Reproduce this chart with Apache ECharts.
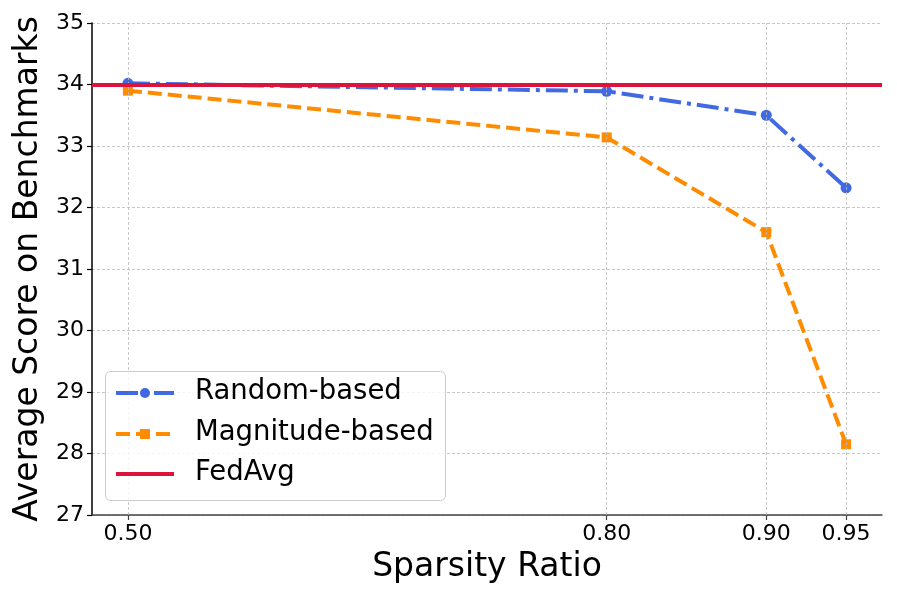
<!DOCTYPE html>
<html><head><meta charset="utf-8">
<script src="https://cdn.jsdelivr.net/npm/echarts@6/dist/echarts.min.js"></script>
<style>html,body{margin:0;padding:0;background:#fff;overflow:hidden}#c{width:897px;height:598px}</style>
</head><body><div id="c"></div>
<script>
const sparsity = [0.50, 0.80, 0.90, 0.95];
const xTickLabels = ['0.50', '0.80', '0.90', '0.95'];
const randomBased = [34.02, 33.89, 33.50, 32.32];
const magnitudeBased = [33.90, 33.14, 31.60, 28.15];
const fedAvg = 34.0;
const seriesNames = ['Random-based', 'Magnitude-based', 'FedAvg'];

const F = 'DejaVu Sans';
const BLUE = '#4169E1', ORANGE = '#FF8C00', RED = '#DC143C';
const DASHDOT = [22, 6, 4, 6], DASH = [14, 6];
const chart = echarts.init(document.getElementById('c'), null, {renderer: 'canvas'});
const pair = (xs, ys) => xs.map((x, i) => [x, ys[i]]);

// legend drawn as graphic (box + sample lines + text)
const LX = 105, LY = 371, LW = 340, LH = 129, rowY = [393, 434, 474];
const styles = [
  {color: BLUE, dash: DASHDOT, sym: 'circle'},
  {color: ORANGE, dash: DASH, sym: 'rect'},
  {color: RED, dash: null, sym: null}
];
const legendEls = [{
  type: 'rect', left: LX, top: LY, z: 100,
  shape: {width: LW, height: LH, r: 5},
  style: {fill: 'rgba(255,255,255,0.8)', stroke: '#cccccc', lineWidth: 1}
}];
seriesNames.forEach((n, i) => {
  const s = styles[i], y = rowY[i];
  legendEls.push({type: 'line', z: 101, shape: {x1: 116, y1: y, x2: 174, y2: y},
    style: {stroke: s.color, lineWidth: 4, lineDash: s.dash || null}});
  if (s.sym === 'circle') legendEls.push({type: 'circle', z: 102, shape: {cx: 145, cy: y, r: 5}, style: {fill: s.color}});
  if (s.sym === 'rect') legendEls.push({type: 'rect', z: 102, shape: {x: 140, y: y - 5, width: 10, height: 10}, style: {fill: s.color}});
  legendEls.push({type: 'text', z: 102, left: 195, top: y - 15,
    style: {text: n, fontFamily: F, fontSize: 27.5, fill: '#000', textVerticalAlign: 'top'}});
});

chart.setOption({
  animation: false,
  textStyle: {fontFamily: F},
  grid: {left: 92, right: 15, top: 23, bottom: 83, containLabel: false},
  graphic: legendEls,
  xAxis: {
    type: 'value', min: 0.4775, max: 0.9725,
    name: 'Sparsity Ratio', nameLocation: 'middle', nameGap: 36,
    nameTextStyle: {fontFamily: F, fontSize: 33, color: '#000'},
    axisLine: {show: true, onZero: false, lineStyle: {color: '#444', width: 1.5}},
    axisTick: {show: true, customValues: sparsity, length: 5, lineStyle: {color: '#444', width: 1.2}},
    axisLabel: {customValues: sparsity, fontFamily: F, fontSize: 22, color: '#000', margin: 8,
      formatter: v => xTickLabels[sparsity.indexOf(+v.toFixed(2))] ?? v.toFixed(2)},
    splitLine: {show: false}
  },
  yAxis: {
    type: 'value', min: 27, max: 35, interval: 1,
    name: 'Average Score on Benchmarks', nameLocation: 'middle', nameGap: 39,
    nameTextStyle: {fontFamily: F, fontSize: 33, color: '#000'},
    axisLine: {show: true, lineStyle: {color: '#000', width: 1.5}},
    axisTick: {show: true, length: 5, lineStyle: {color: '#000', width: 1.2}},
    axisLabel: {fontFamily: F, fontSize: 22, color: '#000', margin: 8, formatter: v => String(v)},
    splitLine: {show: true, lineStyle: {color: '#bbbbbb', type: [3, 2], width: 0.8}}
  },
  series: [
    {
      name: 'grid-x', type: 'line', data: [], silent: true,
      markLine: {silent: true, symbol: 'none', label: {show: false},
        lineStyle: {color: '#bbbbbb', type: [3, 2], width: 0.8},
        data: sparsity.map(x => ({xAxis: x}))}
    },
    {
      name: seriesNames[2], type: 'line', data: [], symbol: 'none', z: 3,
      markLine: {silent: true, symbol: 'none', label: {show: false},
        lineStyle: {color: RED, width: 4, type: 'solid'},
        data: [{yAxis: fedAvg}]}
    },
    {
      name: seriesNames[0], type: 'line', data: pair(sparsity, randomBased), z: 4,
      symbol: 'circle', symbolSize: 11,
      lineStyle: {color: BLUE, width: 4, type: DASHDOT},
      itemStyle: {color: BLUE}
    },
    {
      name: seriesNames[1], type: 'line', data: pair(sparsity, magnitudeBased), z: 4,
      symbol: 'rect', symbolSize: 10,
      lineStyle: {color: ORANGE, width: 4, type: DASH},
      itemStyle: {color: ORANGE}
    }
  ]
});
</script></body></html>
